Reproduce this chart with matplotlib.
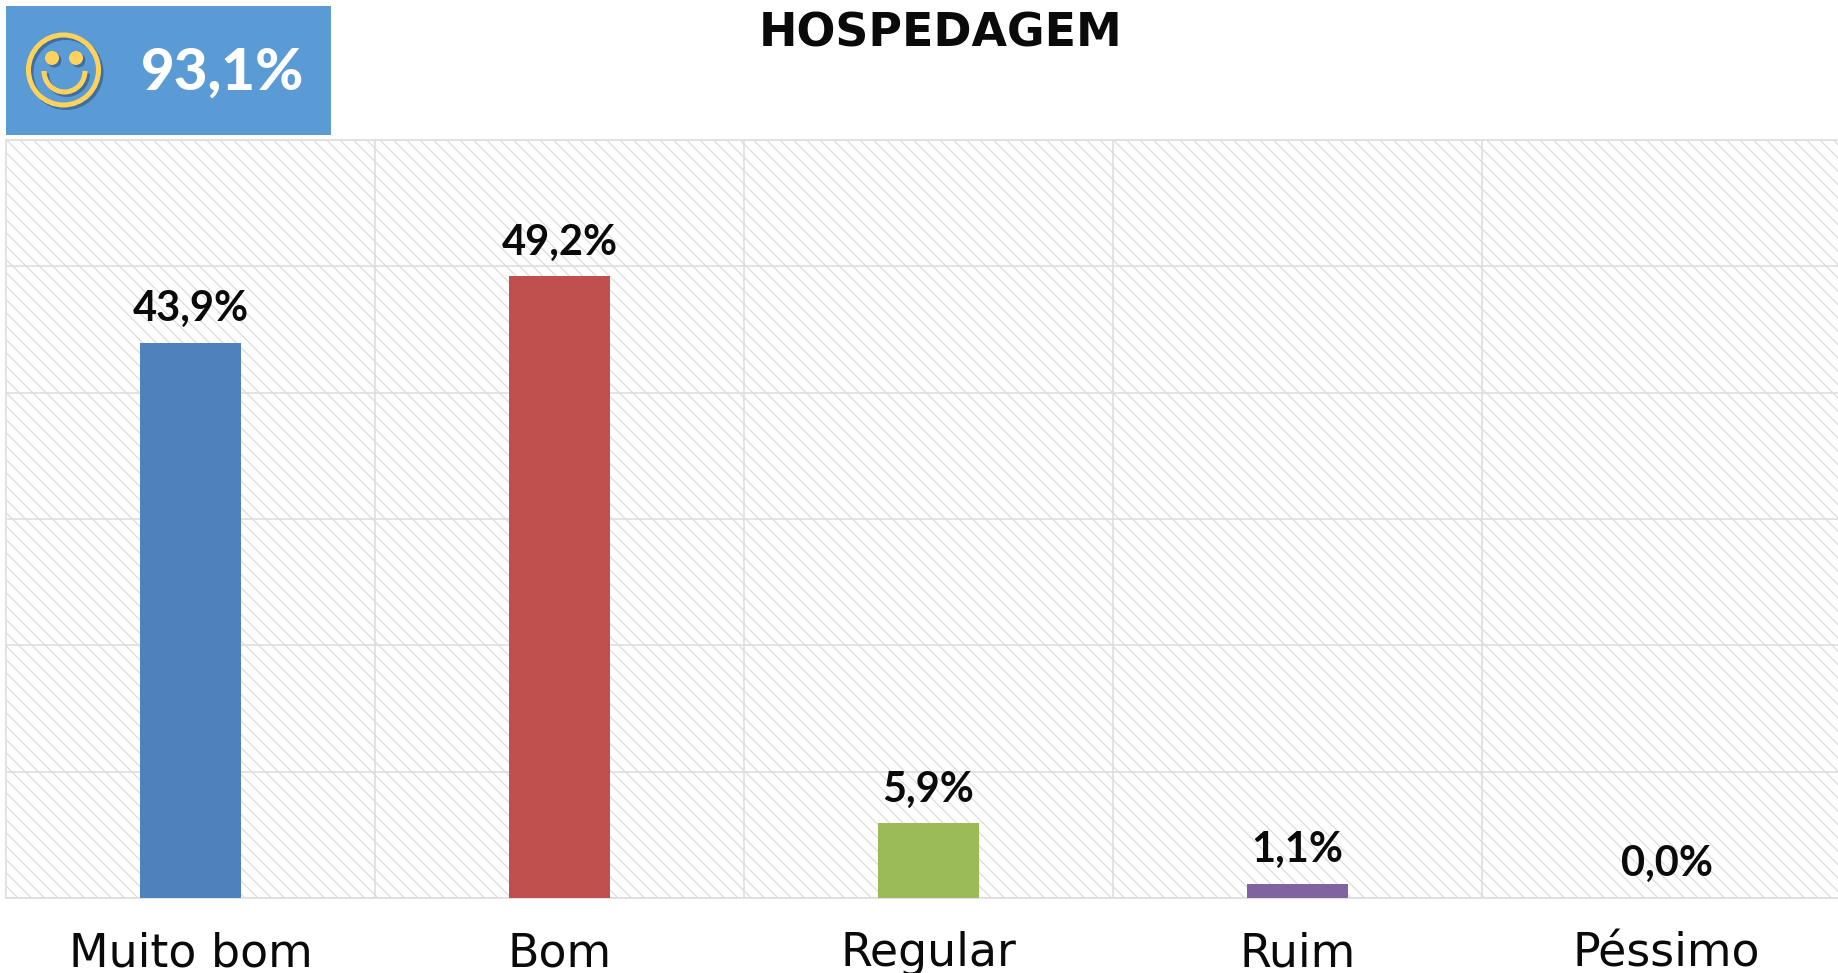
import matplotlib
matplotlib.use("Agg")
import matplotlib.pyplot as plt
from matplotlib.patches import Rectangle, Circle, Arc

# ==========================================
# 1. DATA
# ==========================================
categories = ["Muito bom", "Bom", "Regular", "Ruim", "Péssimo"]
values = [43.9, 49.2, 5.9, 1.1, 0.0]
value_labels = ["43,9%", "49,2%", "5,9%", "1,1%", "0,0%"]
bar_colors = ["#4f81bd", "#c0504d", "#9bbb59", "#8064a2", "#4bacc6"]
y_ticks = [0, 10, 20, 30, 40, 50, 60]
title = "HOSPEDAGEM"
badge_text = "93,1%"

W, H = 1838, 973
DPI = 120  # hatch tile follows the dpi, 120 gives the stripe spacing of the original
PT = 100 / DPI  # sizes below were measured at dpi 100

plt.rcParams["hatch.color"] = "#dcdcdc"
plt.rcParams["hatch.linewidth"] = 0.75

# the small extra stops the pixel size being rounded down
fig = plt.figure(figsize=((W + 0.01) / DPI, (H + 0.01) / DPI), dpi=DPI, facecolor="white")

# ==========================================
# 2. BAR CHART
# ==========================================
# last category runs a little past the edge of the picture
left, right, top, bottom = 6, 1851, 140, 898
ax = fig.add_axes([left / W, 1 - bottom / H, (right - left) / W, (bottom - top) / H])
ax.set_facecolor("white")
ax.patch.set_hatch("\\\\\\")
ax.patch.set_edgecolor("#dcdcdc")
ax.patch.set_linewidth(0)

x = list(range(len(categories)))
ax.bar(x, values, width=0.275, color=bar_colors, zorder=3)
ax.set_xlim(-0.5, 4.5)
ax.set_ylim(0, 60)
ax.set_yticks(y_ticks)
ax.set_xticks([i + 0.5 for i in x[:-1]], minor=True)
ax.set_xticks(x)
ax.set_xticklabels(categories, fontsize=33 * PT, color="#0a0a0a")
ax.tick_params(axis="x", which="both", length=0, pad=24 * PT)
ax.tick_params(axis="y", length=0, labelleft=False)
ax.grid(True, axis="y", color="#dedede", linewidth=1.2 * PT, zorder=1)
ax.grid(True, axis="x", which="minor", color="#dedede", linewidth=1.2 * PT, zorder=1)
ax.grid(False, axis="x", which="major")
ax.set_axisbelow(True)
for name, spine in ax.spines.items():
    spine.set_color("#dedede")
    spine.set_linewidth(1.2 * PT)

for xi, val, lab in zip(x, values, value_labels):
    ax.annotate(lab, (xi, val), xytext=(0, 15), textcoords="offset pixels",
                ha="center", va="bottom", fontsize=30 * PT, fontweight="bold",
                family="Lato", color="#0a0a0a")

# ==========================================
# 3. HEADER (pixel coordinates)
# ==========================================
hdr = fig.add_axes([0, 0, 1, 1], facecolor="none")
hdr.set_xlim(0, W)
hdr.set_ylim(H, 0)
hdr.axis("off")

hdr.add_patch(Rectangle((6, 6), 325, 129, facecolor="#5b9bd5", edgecolor="none"))

# smiley, shadow first
for dx, col in [(2.5, "#3f6f9f"), (0, "#ffd25c")]:
    hdr.add_patch(Circle((63.5 + dx, 70 + dx), 35, fill=False, edgecolor=col, linewidth=3.0))
    hdr.add_patch(Circle((52 + dx, 58 + dx), 7, facecolor=col, edgecolor="none"))
    hdr.add_patch(Circle((76 + dx, 58 + dx), 7, facecolor=col, edgecolor="none"))
    hdr.add_patch(Arc((64.5 + dx, 71 + dx), 41, 42, theta1=0, theta2=180,
                      edgecolor=col, linewidth=3.0))

hdr.text(223, 73, badge_text, ha="center", va="center", color="white",
         fontsize=42 * PT, fontweight="black", family="Lato")
hdr.text(941, 34, title, ha="center", va="center", color="#0a0a0a",
         fontsize=33 * PT, fontweight="bold", family="DejaVu Sans")

fig.savefig("out.png", dpi=DPI)
